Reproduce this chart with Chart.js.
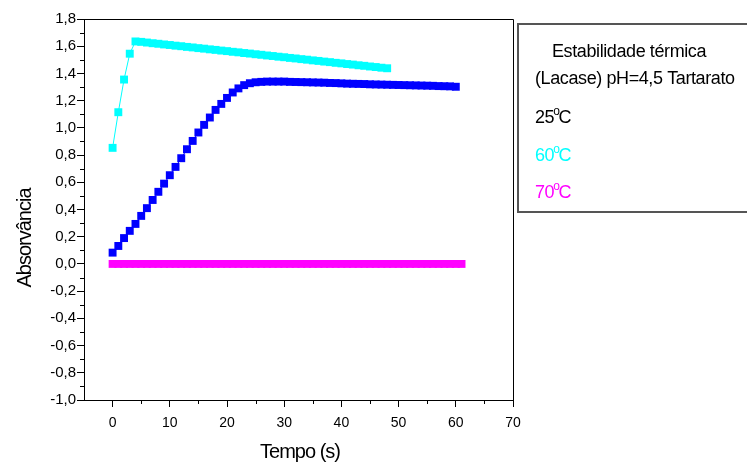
<!DOCTYPE html>
<html>
<head>
<meta charset="utf-8">
<script src="https://cdn.jsdelivr.net/npm/chart.js@4/dist/chart.umd.min.js"></script>
<style>
  html, body { margin: 0; padding: 0; background: #fff; }
</style>
</head>
<body>
<canvas id="chart" width="747" height="464"></canvas>
<script>
// 25 ºC run (s, absorbance)
const time25 = [0, 1, 2, 3, 4, 5, 6, 7, 8, 9, 10, 11, 12, 13, 14, 15, 16, 17, 18, 19, 20,
  21, 22, 23, 24, 25, 26, 27, 28, 29, 30, 31, 32, 33, 34, 35, 36, 37, 38, 39, 40,
  41, 42, 43, 44, 45, 46, 47, 48, 49, 50, 51, 52, 53, 54, 55, 56, 57, 58, 59, 60];
const abs25 = [0.083, 0.132, 0.190, 0.243, 0.294, 0.353, 0.410, 0.470, 0.530, 0.590, 0.652,
  0.713, 0.777, 0.843, 0.904, 0.966, 1.022, 1.076, 1.132, 1.176, 1.220,
  1.260, 1.290, 1.314, 1.328, 1.335, 1.338, 1.340, 1.340, 1.340, 1.340,
  1.338, 1.337, 1.336, 1.335, 1.334, 1.333, 1.332, 1.330, 1.329, 1.327,
  1.325, 1.324, 1.323, 1.322, 1.320, 1.319, 1.318, 1.317, 1.316, 1.315,
  1.314, 1.313, 1.312, 1.311, 1.310, 1.309, 1.307, 1.306, 1.305, 1.302];

// 60 ºC run
const time60 = [0, 1, 2, 3, 4, 5, 6, 7, 8, 9, 10, 11, 12, 13, 14, 15, 16, 17, 18, 19, 20,
  21, 22, 23, 24, 25, 26, 27, 28, 29, 30, 31, 32, 33, 34, 35, 36, 37, 38, 39, 40,
  41, 42, 43, 44, 45, 46, 47, 48];
const abs60 = [0.853, 1.115, 1.355, 1.545, 1.635, 1.632, 1.627, 1.622, 1.618, 1.613, 1.609,
  1.604, 1.600, 1.595, 1.591, 1.586, 1.582, 1.577, 1.573, 1.568, 1.564,
  1.559, 1.555, 1.550, 1.546, 1.541, 1.537, 1.532, 1.528, 1.523, 1.519,
  1.514, 1.510, 1.505, 1.501, 1.496, 1.492, 1.487, 1.483, 1.478, 1.474,
  1.469, 1.465, 1.460, 1.456, 1.451, 1.447, 1.442, 1.438];

// 70 ºC run
const time70 = [0, 1, 2, 3, 4, 5, 6, 7, 8, 9, 10, 11, 12, 13, 14, 15, 16, 17, 18, 19, 20,
  21, 22, 23, 24, 25, 26, 27, 28, 29, 30, 31, 32, 33, 34, 35, 36, 37, 38, 39, 40,
  41, 42, 43, 44, 45, 46, 47, 48, 49, 50, 51, 52, 53, 54, 55, 56, 57, 58, 59, 60, 61];
const abs70 = [0, 0, 0, 0, 0, 0, 0, 0, 0, 0, 0, 0, 0, 0, 0, 0, 0, 0, 0, 0, 0,
  0, 0, 0, 0, 0, 0, 0, 0, 0, 0, 0, 0, 0, 0, 0, 0, 0, 0, 0, 0,
  0, 0, 0, 0, 0, 0, 0, 0, 0, 0, 0, 0, 0, 0, 0, 0, 0, 0, 0, 0, 0];

const xTicks = [0, 10, 20, 30, 40, 50, 60, 70];
const xMinorTicks = [5, 15, 25, 35, 45, 55, 65];
const yTicks = [-1.0, -0.8, -0.6, -0.4, -0.2, 0.0, 0.2, 0.4, 0.6, 0.8, 1.0, 1.2, 1.4, 1.6, 1.8];
const yMinorTicks = [-0.9, -0.7, -0.5, -0.3, -0.1, 0.1, 0.3, 0.5, 0.7, 0.9, 1.1, 1.3, 1.5, 1.7];

const legendTitle = ['Estabilidade térmica', '(Lacase) pH=4,5 Tartarato'];
const seriesNames = ['25', '60', '70'];
const seriesColors = ['#0000ff', '#00ffff', '#ff00ff'];
const legendColors = ['#000000', '#00ffff', '#ff00ff'];

const FONT = '"Liberation Sans", Arial, sans-serif';

function toPoints(xs, ys) {
  return xs.map((x, i) => ({ x: x, y: ys[i] }));
}

function series(i, xs, ys) {
  return {
    label: seriesNames[i] + 'ºC',
    data: toPoints(xs, ys),
    showLine: true,
    borderColor: seriesColors[i],
    backgroundColor: seriesColors[i],
    borderWidth: 1,
    pointStyle: 'rect',
    pointRadius: 5.6,
    pointBorderWidth: 0,
    pointBackgroundColor: seriesColors[i]
  };
}

// frame, minor ticks, axis titles and the text box on the right
const decorations = {
  id: 'decorations',
  afterDraw(chart) {
    const ctx = chart.ctx;
    const a = chart.chartArea;
    const xs = chart.scales.x, ys = chart.scales.y;
    ctx.save();

    ctx.strokeStyle = '#000';
    ctx.lineWidth = 1;
    ctx.beginPath();
    ctx.moveTo(a.left, Math.round(a.top) + 0.5);
    ctx.lineTo(Math.round(a.right) + 0.5, Math.round(a.top) + 0.5);
    ctx.lineTo(Math.round(a.right) + 0.5, a.bottom);
    ctx.stroke();

    ctx.beginPath();
    xMinorTicks.forEach(v => {
      const px = Math.round(xs.getPixelForValue(v)) + 0.5;
      ctx.moveTo(px, a.bottom);
      ctx.lineTo(px, a.bottom + 4);
    });
    yMinorTicks.forEach(v => {
      const py = Math.round(ys.getPixelForValue(v)) + 0.5;
      ctx.moveTo(a.left, py);
      ctx.lineTo(a.left - 4, py);
    });
    ctx.stroke();

    // axis titles
    ctx.fillStyle = '#000';
    ctx.font = '20px ' + FONT;
    ctx.letterSpacing = '-1px';
    ctx.textAlign = 'center';
    ctx.textBaseline = 'middle';
    ctx.fillText('Tempo (s)', 300, 452);
    ctx.save();
    ctx.translate(25, 238);
    ctx.rotate(-Math.PI / 2);
    ctx.fillText('Absorvância', 0, 0);
    ctx.restore();

    // text box
    ctx.strokeStyle = '#555';
    ctx.lineWidth = 2;
    ctx.strokeRect(518, 24, 260, 188);

    ctx.textAlign = 'left';
    ctx.textBaseline = 'alphabetic';
    ctx.letterSpacing = '-0.4px';
    ctx.font = '18px ' + FONT;
    ctx.fillText(legendTitle[0], 552, 57);
    ctx.fillText(legendTitle[1], 535, 84);

    const rows = [123, 161, 198];
    seriesNames.forEach((name, i) => {
      const x = 535, y = rows[i];
      ctx.fillStyle = legendColors[i];
      ctx.font = '18px ' + FONT;
      ctx.fillText(name, x, y);
      const w = ctx.measureText(name).width;
      ctx.font = '12px ' + FONT;
      ctx.fillText('o', x + w - 1, y - 8);
      const wo = ctx.measureText('o').width;
      ctx.font = '18px ' + FONT;
      ctx.fillText('C', x + w + wo - 2, y);
    });

    ctx.restore();
  }
};

new Chart(document.getElementById('chart'), {
  type: 'scatter',
  data: {
    datasets: [
      series(2, time70, abs70),
      series(0, time25, abs25),
      series(1, time60, abs60)
    ]
  },
  options: {
    responsive: false,
    devicePixelRatio: 1,
    animation: false,
    layout: { padding: { left: 0, top: 19, right: 234, bottom: 0 } },
    plugins: { legend: { display: false }, tooltip: { enabled: false } },
    scales: {
      x: {
        type: 'linear',
        min: -5,
        max: 70,
        afterBuildTicks(scale) { scale.ticks = xTicks.map(v => ({ value: v })); },
        afterFit(scale) { scale.height = 64; },
        grid: { drawOnChartArea: false, drawTicks: true, tickLength: 7, color: '#000' },
        border: { display: true, color: '#000', width: 1 },
        ticks: {
          color: '#000',
          padding: 8,
          maxRotation: 0,
          font: { family: FONT, size: 14 },
          callback: v => String(v)
        }
      },
      y: {
        type: 'linear',
        min: -1,
        max: 1.8,
        afterBuildTicks(scale) { scale.ticks = yTicks.map(v => ({ value: v })); },
        afterFit(scale) { scale.width = 84; },
        grid: { drawOnChartArea: false, drawTicks: true, tickLength: 7, color: '#000' },
        border: { display: true, color: '#000', width: 1 },
        ticks: {
          color: '#000',
          padding: 1,
          font: { family: FONT, size: 15 },
          callback: v => (Math.abs(v) < 1e-9 ? 0 : v).toFixed(1).replace('.', ',')
        }
      }
    }
  },
  plugins: [decorations]
});
</script>
</body>
</html>
